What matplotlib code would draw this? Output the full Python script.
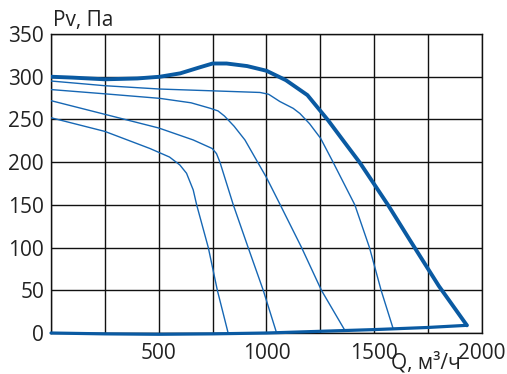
import numpy as np
import matplotlib.pyplot as plt
from matplotlib.ticker import MultipleLocator, FuncFormatter

# --- fan curves: static pressure vs air flow ---

# upper (max speed) curve
q_max = [0, 100, 250, 400, 505, 600, 690, 750, 815, 910, 1000, 1090, 1190, 1286,
         1360, 1433, 1503, 1565, 1665, 1800, 1930]
p_max = [300, 299, 297, 298, 300, 304, 311, 315.5, 315.5, 312.5, 307, 296, 278.5, 249,
         224, 199.5, 173, 149.5, 109, 55, 9]

# lower boundary curve
q_low = [0, 250, 500, 750, 1000, 1250, 1500, 1750, 1930]
p_low = [0, -1, -1.5, -1, 0, 2, 4, 6.5, 9]

# thin curves (lower speeds)
q_1 = [0, 250, 505, 750, 970, 1010, 1062, 1124, 1155, 1200, 1251, 1309, 1410, 1478, 1532, 1588]
p_1 = [295, 289.5, 285.6, 283.5, 281.6, 279.5, 271, 263, 257, 245, 228, 200, 150, 100, 50, 5]

q_2 = [0, 250, 505, 650, 740, 775, 805, 850, 900, 959, 1000, 1062, 1163, 1255, 1364]
p_2 = [285, 280, 274.7, 269.5, 263, 260, 254, 242, 226, 200, 182, 151, 100, 50, 3]

q_3 = [0, 250, 500, 660, 748, 768, 784, 846, 915, 985, 1047]
p_3 = [272, 256, 240, 226, 216, 210, 200, 150, 100, 50, 0]

q_4 = [0, 250, 459, 550, 598, 629, 660, 676, 730, 772, 822]
p_4 = [252, 236, 216, 206, 196.7, 187, 167.5, 150, 100, 50, 0]

thin_curves = [(q_1, p_1), (q_2, p_2), (q_3, p_3), (q_4, p_4)]

plt.rcParams['font.family'] = ['Open Sans', 'DejaVu Sans']

fig = plt.figure(figsize=(5.07, 3.74), dpi=100)
ax = fig.add_axes([0.1006, 0.1096, 0.85, 0.7994])

thick_col = '#0a5aa2'
thin_col = '#1667b4'

for q, p in thin_curves:
    ax.plot(q, p, color=thin_col, lw=1.0, solid_joinstyle='round', zorder=3)
ax.plot(q_max, p_max, color=thick_col, lw=2.8, solid_joinstyle='round',
        solid_capstyle='round', zorder=4)
ax.plot(q_low, p_low, color=thick_col, lw=2.3, solid_capstyle='round',
        clip_on=False, zorder=4)

ax.set_xlim(0, 2000)
ax.set_ylim(0, 350)
ax.xaxis.set_major_locator(MultipleLocator(250))
ax.yaxis.set_major_locator(MultipleLocator(50))
ax.xaxis.set_major_formatter(FuncFormatter(
    lambda v, pos: '%d' % v if v > 0 and v % 500 == 0 else ''))
ax.grid(True, color='#111111', lw=1.0)
ax.set_axisbelow(True)
for s in ax.spines.values():
    s.set_color('#111111')
    s.set_linewidth(1.0)
ax.tick_params(length=0, labelsize=15, labelcolor='#222222')
ax.tick_params(axis='x', pad=7)
ax.tick_params(axis='y', pad=5)

fig.text(0.104, 0.945, 'Pv, Па', fontsize=15, color='#222222', va='center', ha='left')
fig.text(0.84, 0.03, 'Q, м³/ч', fontsize=15, color='#222222', va='center', ha='center')

fig.savefig('out.png', dpi=100)
